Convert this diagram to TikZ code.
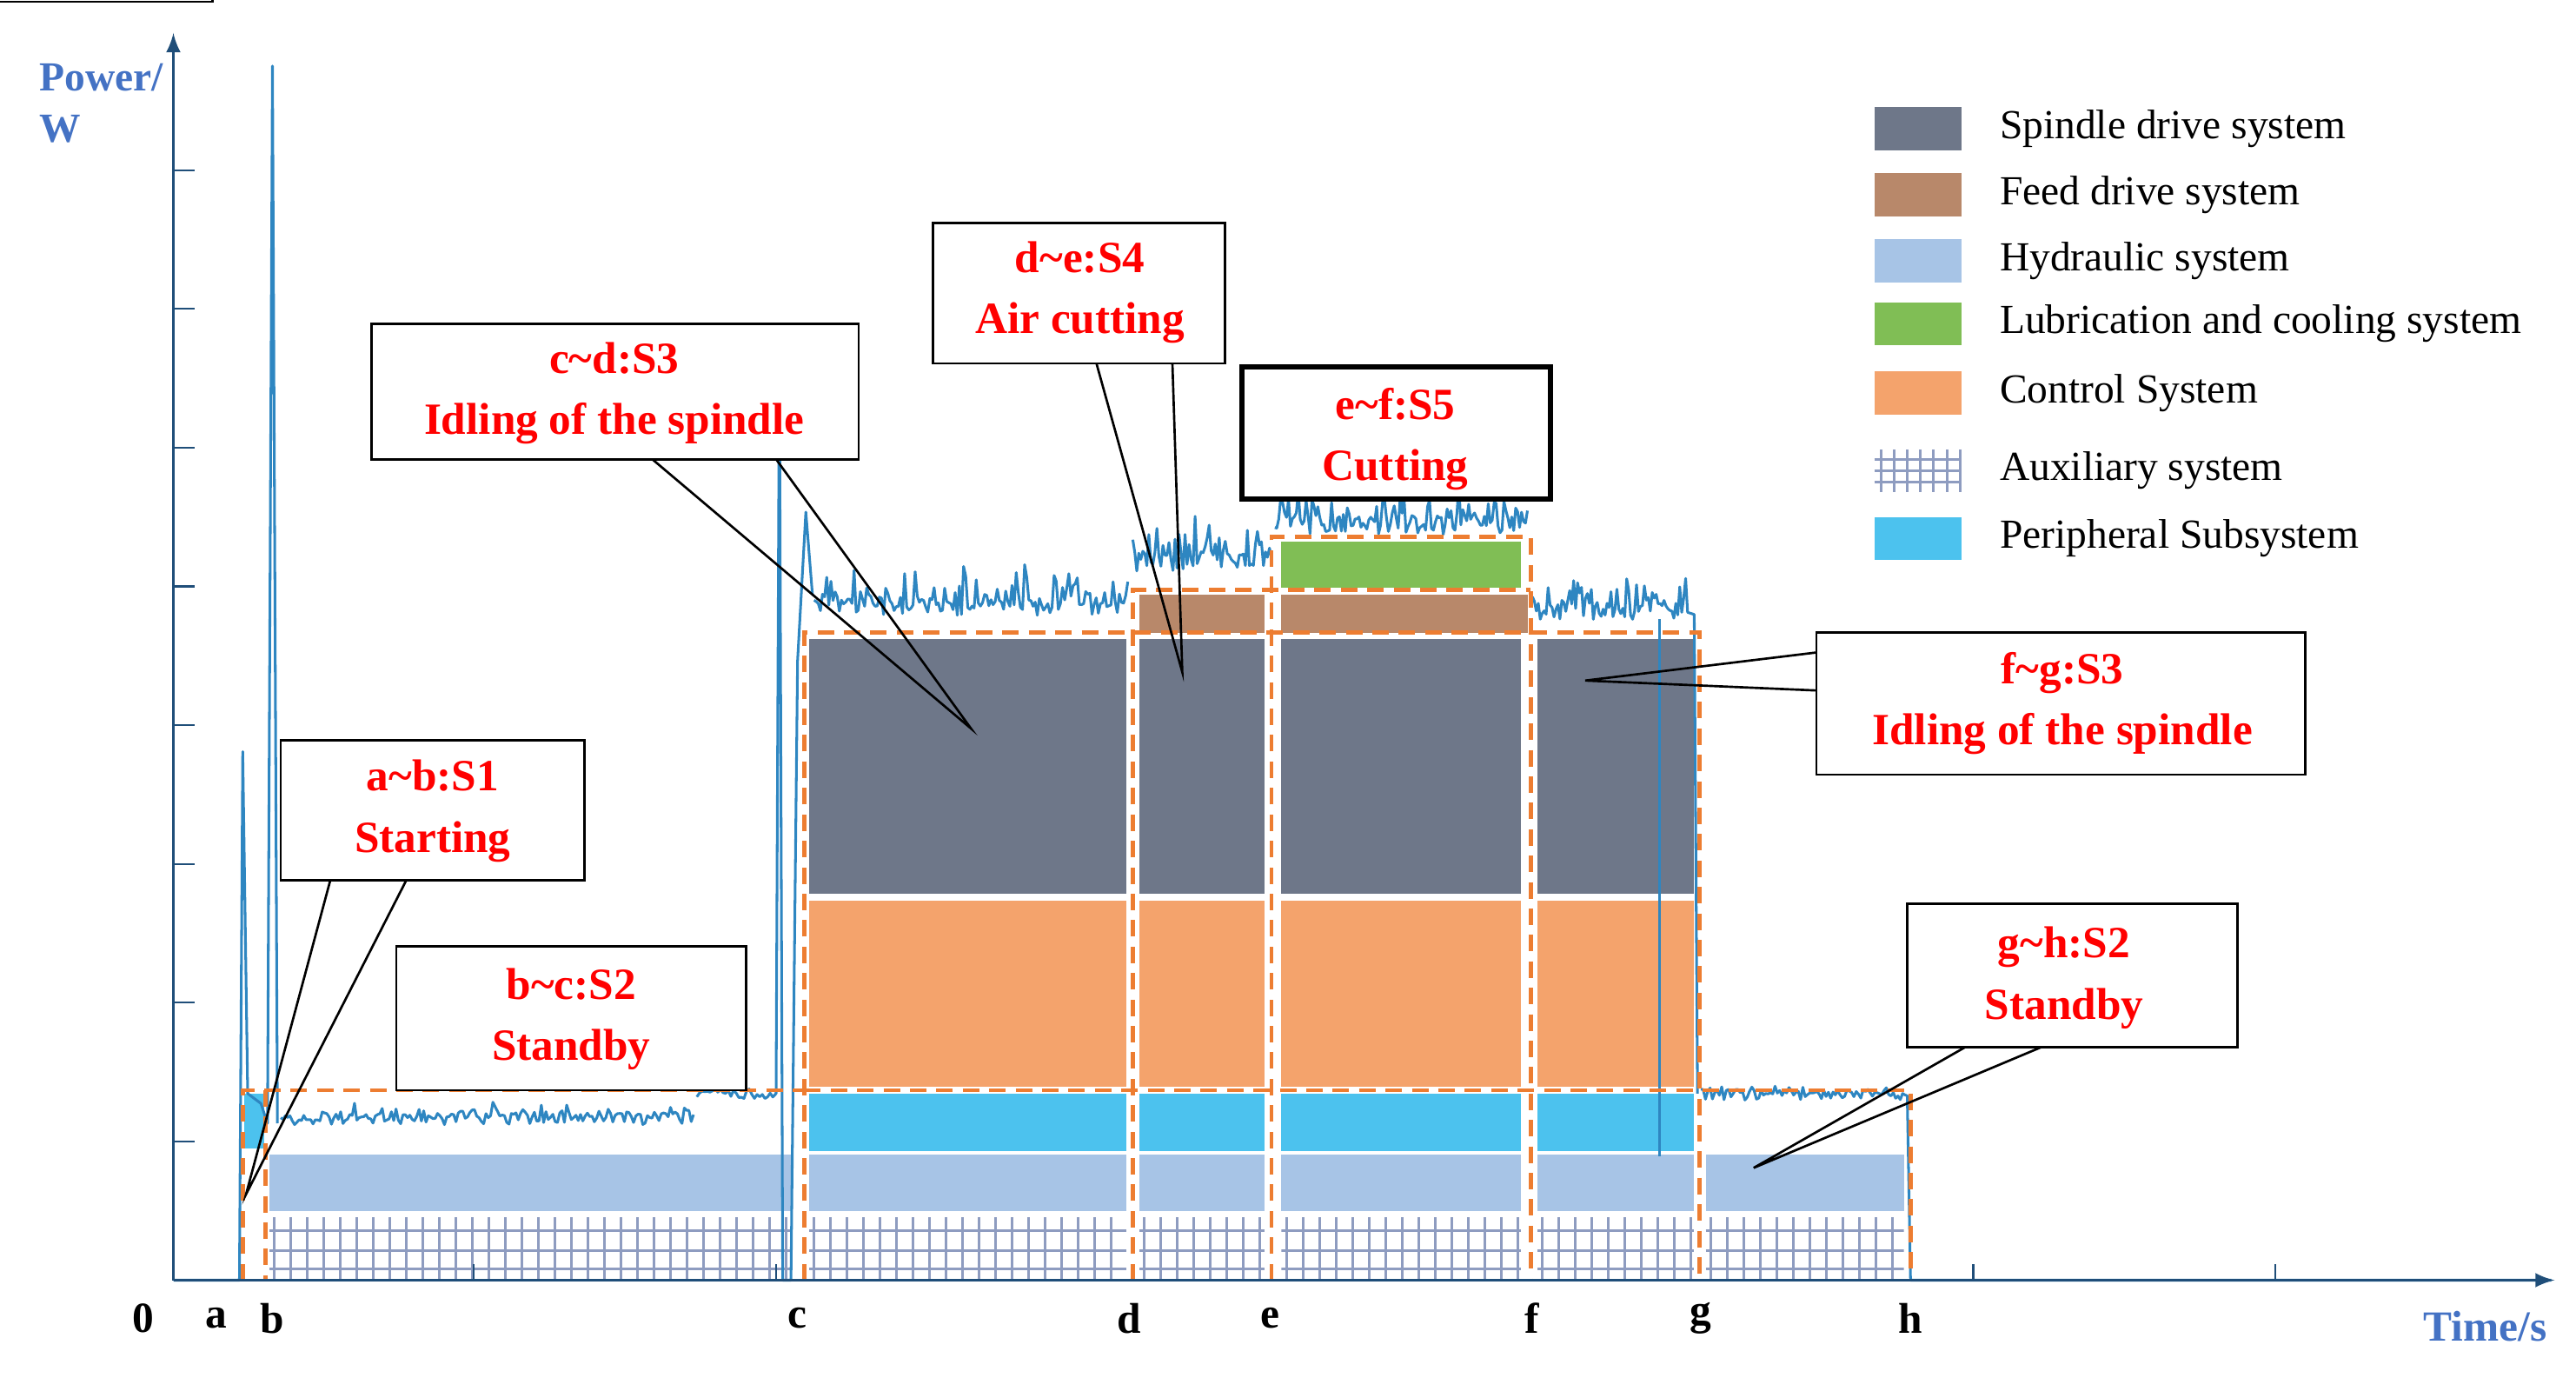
\documentclass[tikz,border=0pt]{standalone}
\usepackage{fontspec}
\setmainfont{Liberation Serif}
\begin{document}
\definecolor{spin}{HTML}{6E7789}
\definecolor{feed}{HTML}{B8886A}
\definecolor{hyd}{HTML}{A7C4E6}
\definecolor{lub}{HTML}{80BE55}
\definecolor{ctl}{HTML}{F4A36C}
\definecolor{per}{HTML}{4CC2EE}
\definecolor{aux}{HTML}{8E9CC0}
\definecolor{dash}{HTML}{ED7D31}
\definecolor{axis}{HTML}{1F4E79}
\definecolor{curve}{HTML}{2E86C1}
\definecolor{lbl}{HTML}{4472C4}
\begin{tikzpicture}[x=0.5pt,y=-0.5pt,
  lab/.style={draw=black,line width=0.7pt,fill=white,align=center,text=red,font=\fontsize{13.5}{18.5}\selectfont\bfseries,inner sep=0pt},
  dsh/.style={draw=dash,line width=1.3pt,dash pattern=on 5pt off 3pt},
  leg/.style={anchor=west,font=\fontsize{12.5}{14}\selectfont},
  tick/.style={letters},
  letters/.style={font=\fontsize{13}{14}\selectfont\bfseries}]
\useasboundingbox (0,0) rectangle (1560,834);
% auxiliary grids
\foreach \a/\b in {163/480,490/682,690/766,776/921,931/1026,1033/1153}{
  \begin{scope}
  \clip (\a,737) rectangle (\b,775);
  \fill[white] (\a,737) rectangle (\b,775);
  \foreach \xx in {0,10,...,330}{\draw[aux,line width=0.8pt] (\a+\xx+3,737)--(\a+\xx+3,775);}
  \foreach \yy in {745,757,768}{\draw[aux,line width=0.8pt] (\a,\yy)--(\b,\yy);}
  \end{scope}}
% hydraulic
\foreach \a/\b in {163/480,490/682,690/766,776/921,931/1026,1033/1153}{\fill[hyd] (\a,699) rectangle (\b,733);}
% peripheral
\foreach \a/\b in {490/682,690/766,776/921,931/1026}{\fill[per] (\a,662) rectangle (\b,697);}
\fill[per] (148,662) rectangle (160,695);
% control
\foreach \a/\b in {490/682,690/766,776/921,931/1026}{\fill[ctl] (\a,545) rectangle (\b,658);}
% spindle
\foreach \a/\b in {490/682,690/766,776/921,931/1026}{\fill[spin] (\a,387) rectangle (\b,541);}
% feed and lub
\fill[feed] (690,360) rectangle (766,383);
\fill[feed] (776,360) rectangle (925,383);
\fill[lub] (776,328) rectangle (921,356);
% power curve
\pgfmathsetseed{11}
\draw[curve,line width=0.8pt,line join=round]
 (105,775)--(145,775)--(147,455)--(150,662)--(158,668)--(162,680)--(165,40)--(168,680)
 plot[domain=170:420,samples=180] (\x,{677+4*rand-6*rnd^3})
 plot[domain=422:468,samples=30] (\x,{663+3*rand-5*rnd^3})
 --(470,662)--(472,208)--(474,775)--(479,775)--(483,400)--(488,310)--(492,360)
 plot[domain=493:683,samples=150] (\x,{368+5*rand-22*rnd^3})
 plot[domain=686:770,samples=70] (\x,{340+6*rand-22*rnd^3})
 plot[domain=772:925,samples=130] (\x,{318+6*rand-20*rnd^3})
 plot[domain=928:1022,samples=80] (\x,{370+5*rand-18*rnd^3})
 --(1026,372)--(1028,662)
 plot[domain=1030:1155,samples=90] (\x,{663+3*rand-4*rnd^3})
 --(1157,775)--(1545,775);
\draw[curve,line width=0.9pt] (1005,375)--(1005,700);
% dashed outlines
\draw[dsh] (147,775)--(147,660)--(487,660);
\draw[dsh] (161,660)--(161,775);
\draw[dsh] (487,775)--(487,383)--(1029,383)--(1029,775);
\draw[dsh] (487,660)--(1157,660)--(1157,775);
\draw[dsh] (686,775)--(686,357)--(927,357);
\draw[dsh] (770,775)--(770,325)--(927,325)--(927,775);
% axes
\draw[axis,line width=1pt,-latex] (105,775)--(105,20);
\draw[axis,line width=1pt,-latex] (105,775)--(1547,775);
\foreach \yy in {103,187,271,355,439,523,607,691}{\draw[axis,line width=0.6pt] (105,\yy)--(118,\yy);}
\foreach \xx in {287,470,1195,1378}{\draw[axis,line width=0.6pt] (\xx,775)--(\xx,765);}
\node[text=lbl,font=\fontsize{12.5}{14}\selectfont\bfseries,anchor=west] (pw) at (17,47) {Power/};
\node[text=lbl,font=\fontsize{12.5}{14}\selectfont\bfseries,anchor=west] (pww) at (17,78) {W};
\node[text=lbl,font=\fontsize{13}{14}\selectfont\bfseries] (ts) at (1505,803) {Time/s};
\foreach \n/\xx in {0/87,a/131,b/165,c/483,d/684,e/769,f/928,g/1030,h/1157}{\node[letters] (L\n) at (\xx,798) {\n};}
% legend
\foreach \c/\yy/\t in {spin/78/Spindle drive system,feed/118/Feed drive system,hyd/158/Hydraulic system,lub/196/Lubrication and cooling system,ctl/238/Control System,per/326/Peripheral Subsystem}{
  \fill[\c] (1135,\yy-13) rectangle (1188,\yy+13);
  \node[leg] at (1204,\yy) {\t};}
\begin{scope}
\clip (1135,272) rectangle (1188,298);
\foreach \xx in {1139,1147,...,1188}{\draw[aux,line width=0.8pt] (\xx,272)--(\xx,298);}
\foreach \yy in {278,285,292}{\draw[aux,line width=0.8pt] (1135,\yy)--(1188,\yy);}
\end{scope}
\node[leg] at (1204,285) {Auxiliary system};
% callout boxes
\node[lab,minimum width=184\pgflinewidth] (ab) at (0,0) {};
\draw[line width=0.7pt] (170,448) rectangle (354,533);
\node[lab,draw=none,fill=none] (abt) at (262,491) {a\textasciitilde b:S1\\Starting};
\coordinate (abtip) at (149,723);
\draw[line width=0.7pt] (200,533)--(abtip)--(246,533);
\draw[line width=0.7pt,fill=white] (240,573) rectangle (452,660);
\node[lab,draw=none,fill=none] (bc) at (346,617) {b\textasciitilde c:S2\\Standby};
\draw[line width=0.7pt,fill=white] (225,196) rectangle (520,278);
\node[lab,draw=none,fill=none] (cd) at (372,238) {c\textasciitilde d:S3\\Idling of the spindle};
\coordinate (cdtip) at (588,441);
\draw[line width=0.7pt] (395,278)--(cdtip)--(470,278);
\draw[line width=0.7pt,fill=white] (565,135) rectangle (742,220);
\node[lab,draw=none,fill=none] (de) at (654,177) {d\textasciitilde e:S4\\Air cutting};
\coordinate (detip) at (716,407);
\draw[line width=0.7pt] (664,220)--(detip)--(710,220);
\draw[line width=1.6pt,fill=white] (752,222) rectangle (939,302);
\node[lab,draw=none,fill=none] (ef) at (845,266) {e\textasciitilde f:S5\\Cutting};
\draw[line width=0.7pt,fill=white] (1100,383) rectangle (1396,469);
\node[lab,draw=none,fill=none] (fg) at (1249,426) {f\textasciitilde g:S3\\Idling of the spindle};
\coordinate (fgtip) at (960,412);
\draw[line width=0.7pt] (1100,395)--(fgtip)--(1100,418);
\draw[line width=0.7pt,fill=white] (1155,547) rectangle (1355,634);
\node[lab,draw=none,fill=none] (gh) at (1250,592) {g\textasciitilde h:S2\\Standby};
\coordinate (ghtip) at (1062,707);
\draw[line width=0.7pt] (1190,634)--(ghtip)--(1236,634);
\end{tikzpicture}
\end{document}
